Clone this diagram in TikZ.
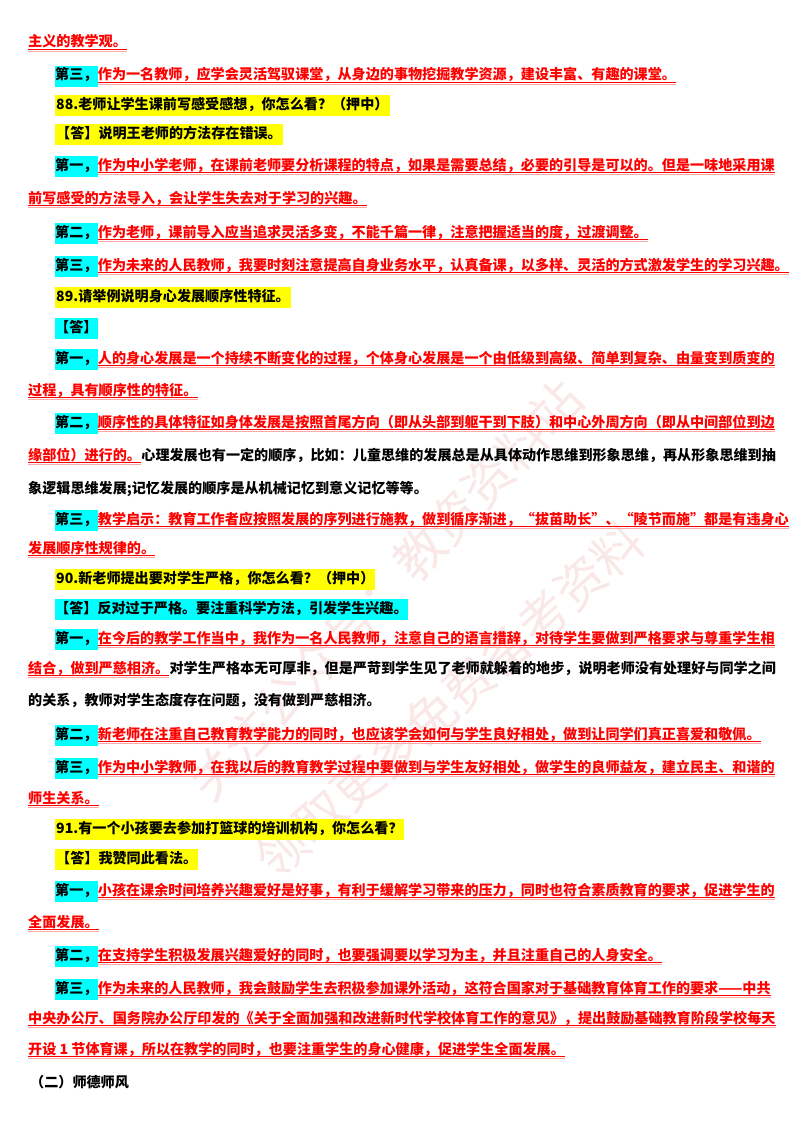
\documentclass[tikz,border=0pt]{standalone}
\usepackage{fontspec}
\setmainfont{Noto Sans CJK SC}
\definecolor{cy}{RGB}{0,255,255}
\definecolor{ye}{RGB}{255,255,0}
\definecolor{rd}{RGB}{255,0,0}
\definecolor{ul2}{RGB}{255,170,170}
\definecolor{wm}{RGB}{230,150,150}
\begin{document}
\begin{tikzpicture}[x=1pt,y=-1pt,
  base/.style={inner xsep=0pt,inner ysep=3pt,text height=11pt,text depth=4pt,anchor=base west,font=\fontsize{14.1}{16}\selectfont\bfseries},
  lab/.style={base,fill=cy},
  qy/.style={base,fill=ye,inner xsep=1pt},
  bk/.style={base,text=black},
  rt/.style={base,text=rd},
  wmk/.style={text=wm,opacity=0.22,font=\fontsize{50}{50}\selectfont\mdseries},
]
\useasboundingbox (0,0) rectangle (800,1132);
\node[wmk,rotate=47] (w1) at (385,590) {关注公众号：教资资料站};
\node[wmk,rotate=42] (w2) at (450,700) {领取更多免费备考资料};
\newcommand\ulx[1]{\draw[rd,line width=0.8pt] ([yshift=-2.5pt]#1.base west) -- ([yshift=-2.5pt]#1.base east); \draw[ul2,line width=0.8pt] ([yshift=-4pt]#1.base west) -- ([yshift=-4pt]#1.base east);}
\node[rt] (a1) at (28,47) {主义的教学观。}; \ulx{a1}
\node[lab] (a2) at (55,80) {第三，};
\node[rt] (a2b) at (a2.base east) {作为一名教师，应学会灵活驾驭课堂，从身边的事物挖掘教学资源，建设丰富、有趣的课堂。}; \ulx{a2b}
\node[qy] (a3) at (55,109) {88.老师让学生课前写感受感想，你怎么看？（押中）};
\node[qy] (a4) at (55,138) {【答】说明王老师的方法存在错误。};
\node[lab] (a5) at (55,170) {第一，};
\node[rt] (a5b) at (a5.base east) {作为中小学老师，在课前老师要分析课程的特点，如果是需要总结，必要的引导是可以的。但是一味地采用课}; \ulx{a5b}
\node[rt] (a6) at (28,203) {前写感受的方法导入，会让学生失去对于学习的兴趣。}; \ulx{a6}
\node[lab] (a7) at (55,237) {第二，};
\node[rt] (a7b) at (a7.base east) {作为老师，课前导入应当追求灵活多变，不能千篇一律，注意把握适当的度，过渡调整。}; \ulx{a7b}
\node[lab] (a8) at (55,270) {第三，};
\node[rt] (a8b) at (a8.base east) {作为未来的人民教师，我要时刻注意提高自身业务水平，认真备课，以多样、灵活的方式激发学生的学习兴趣。}; \ulx{a8b}
\node[qy] (a9) at (55,301) {89.请举例说明身心发展顺序性特征。};
\node[lab] (a10) at (55,332) {【答】};
\node[lab] (a11) at (55,363) {第一，};
\node[rt] (a11b) at (a11.base east) {人的身心发展是一个持续不断变化的过程，个体身心发展是一个由低级到高级、简单到复杂、由量变到质变的}; \ulx{a11b}
\node[rt] (a12) at (28,395) {过程，具有顺序性的特征。}; \ulx{a12}
\node[lab] (a13) at (55,427) {第二，};
\node[rt] (a13b) at (a13.base east) {顺序性的具体特征如身体发展是按照首尾方向（即从头部到躯干到下肢）和中心外周方向（即从中间部位到边}; \ulx{a13b}
\node[rt] (a14) at (28,460) {缘部位）进行的。}; \ulx{a14}
\node[bk] (a14b) at (a14.base east) {心理发展也有一定的顺序，比如：儿童思维的发展总是从具体动作思维到形象思维，再从形象思维到抽};
\node[bk] (a15) at (28,493) {象逻辑思维发展;记忆发展的顺序是从机械记忆到意义记忆等等。};
\node[lab] (a16) at (55,524) {第三，};
\node[rt] (a16b) at (a16.base east) {教学启示：教育工作者应按照发展的序列进行施教，做到循序渐进，“拔苗助长”、“陵节而施”都是有违身心}; \ulx{a16b}
\node[rt] (a17) at (28,553) {发展顺序性规律的。}; \ulx{a17}
\node[qy] (a18) at (55,583) {90.新老师提出要对学生严格，你怎么看？（押中）};
\node[lab] (a19) at (55,613) {【答】反对过于严格。要注重科学方法，引发学生兴趣。};
\node[lab] (a20) at (55,643) {第一，};
\node[rt] (a20b) at (a20.base east) {在今后的教学工作当中，我作为一名人民教师，注意自己的语言措辞，对待学生要做到严格要求与尊重学生相}; \ulx{a20b}
\node[rt] (a21) at (28,673) {结合，做到严慈相济。}; \ulx{a21}
\node[bk] (a21b) at (a21.base east) {对学生严格本无可厚非，但是严苛到学生见了老师就躲着的地步，说明老师没有处理好与同学之间};
\node[bk] (a22) at (28,705) {的关系，教师对学生态度存在问题，没有做到严慈相济。};
\node[lab] (a23) at (55,739) {第二，};
\node[rt] (a23b) at (a23.base east) {新老师在注重自己教育教学能力的同时，也应该学会如何与学生良好相处，做到让同学们真正喜爱和敬佩。}; \ulx{a23b}
\node[lab] (a24) at (55,772) {第三，};
\node[rt] (a24b) at (a24.base east) {作为中小学教师，在我以后的教育教学过程中要做到与学生友好相处，做学生的良师益友，建立民主、和谐的}; \ulx{a24b}
\node[rt] (a25) at (28,803) {师生关系。}; \ulx{a25}
\node[qy] (a26) at (55,833) {91.有一个小孩要去参加打篮球的培训机构，你怎么看？};
\node[qy] (a27) at (55,863) {【答】我赞同此看法。};
\node[lab] (a28) at (55,895) {第一，};
\node[rt] (a28b) at (a28.base east) {小孩在课余时间培养兴趣爱好是好事，有利于缓解学习带来的压力，同时也符合素质教育的要求，促进学生的}; \ulx{a28b}
\node[rt] (a29) at (28,927) {全面发展。}; \ulx{a29}
\node[lab] (a30) at (55,960) {第二，};
\node[rt] (a30b) at (a30.base east) {在支持学生积极发展兴趣爱好的同时，也要强调要以学习为主，并且注重自己的人身安全。}; \ulx{a30b}
\node[lab] (a31) at (55,993) {第三，};
\node[rt] (a31b) at (a31.base east) {作为未来的人民教师，我会鼓励学生去积极参加课外活动，这符合国家对于基础教育体育工作的要求——中共}; \ulx{a31b}
\node[rt] (a32) at (28,1023) {中央办公厅、国务院办公厅印发的《关于全面加强和改进新时代学校体育工作的意见》，提出鼓励基础教育阶段学校每天}; \ulx{a32}
\node[rt] (a33) at (28,1054) {开设 1 节体育课，所以在教学的同时，也要注重学生的身心健康，促进学生全面发展。}; \ulx{a33}
\node[bk] (a34) at (30,1087) {（二）师德师风};
\end{tikzpicture}
\end{document}
